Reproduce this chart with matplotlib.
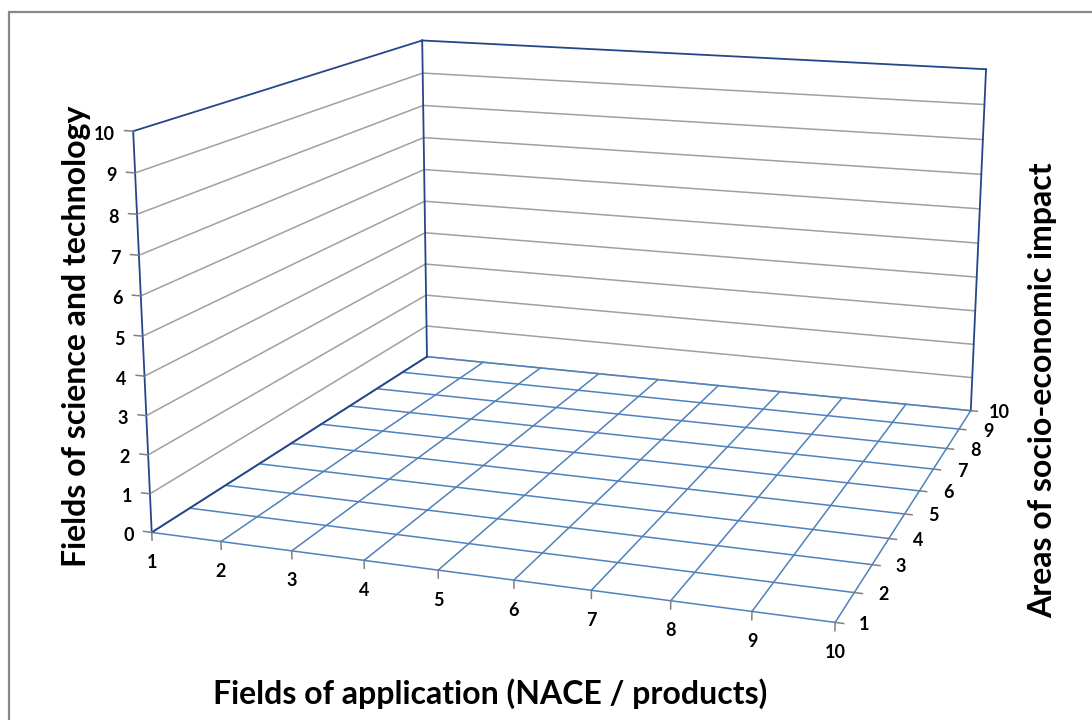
import numpy as np
import matplotlib
matplotlib.use("Agg")
import matplotlib.pyplot as plt
from matplotlib.transforms import offset_copy
from matplotlib.patches import Rectangle

# ---------------- data ----------------
x_ticks = [1, 2, 3, 4, 5, 6, 7, 8, 9, 10]          # Fields of application
y_ticks = [1, 2, 3, 4, 5, 6, 7, 8, 9, 10]          # Areas of socio-economic impact
z_ticks = [0, 1, 2, 3, 4, 5, 6, 7, 8, 9, 10]       # Fields of science and technology
x_title = "Fields of application (NACE / products)"
y_title = "Areas of socio-economic impact"
z_title = "Fields of science and technology"

# ---------------- view / style ----------------
W, H = 1092, 720
ELEV, AZIM, ROLL = 13.8209, -70.8862, -0.1945
FOCAL = 0.43310
BOX = (1.0, 0.99273, 0.58164)
AX_L, AX_B, AX_S = 100.03, -61.84, 966.23      # axes rect in pixels (square)

floor_c = "#4F81BD"
wall_c = "#A0A0A0"
edge_c = "#24478A"
tick_c = "#808080"
font = "Lato"

fig = plt.figure(figsize=(W / 100, H / 100), dpi=100)
ax = fig.add_axes([AX_L / W, AX_B / H, AX_S / W, AX_S / H], projection="3d")
ax.set_xlim(min(x_ticks), max(x_ticks))
ax.set_ylim(min(y_ticks), max(y_ticks))
ax.set_zlim(min(z_ticks), max(z_ticks))
ax.set_axis_off()
ax.view_init(elev=ELEV, azim=AZIM, roll=ROLL)
ax.set_proj_type("persp", focal_length=FOCAL)
ax.set_box_aspect(BOX)

xa, xb = min(x_ticks), max(x_ticks)
ya, yb = min(y_ticks), max(y_ticks)
za, zb = min(z_ticks), max(z_ticks)

# walls: gridlines
for z in z_ticks[:-1]:
    ax.plot([xa, xa], [ya, yb], [z, z], color=wall_c, lw=1.1)
    ax.plot([xa, xb], [yb, yb], [z, z], color=wall_c, lw=1.1)
# floor grid
for x in x_ticks:
    ax.plot([x, x], [ya, yb], [za, za], color=floor_c, lw=1.1)
for y in y_ticks:
    ax.plot([xa, xb], [y, y], [za, za], color=floor_c, lw=1.1)
# wall outlines
edges = [((xa, ya, za), (xa, ya, zb)), ((xa, yb, za), (xa, yb, zb)), ((xb, yb, za), (xb, yb, zb)),
         ((xa, ya, zb), (xa, yb, zb)), ((xa, yb, zb), (xb, yb, zb)), ((xa, ya, za), (xa, yb, za))]
for p1, p2 in edges:
    ax.plot([p1[0], p2[0]], [p1[1], p2[1]], [p1[2], p2[2]], color=edge_c, lw=1.3)

M = ax.get_proj()


def to2d(x, y, z):
    v = M @ np.array([x, y, z, 1.0])
    return v[0] / v[3], v[1] / v[3]


lab_kw = dict(fontsize=13, family=font, fontweight="bold", color="#000000")
for x in x_ticks:
    ax.plot([x, x], [ya, ya], [za, za - 0.2], color=tick_c, lw=1.1)
    u, v = to2d(x, ya, za)
    ax.text2D(u, v, str(x), transform=offset_copy(ax.transData, fig=fig, x=0, y=-30, units="dots"),
              ha="center", va="center", **lab_kw)
for y in y_ticks:
    ax.plot([xb, xb + 0.1], [y, y], [za, za], color=tick_c, lw=1.1)
    u, v = to2d(xb, y, za)
    ax.text2D(u, v, str(y), transform=offset_copy(ax.transData, fig=fig, x=29, y=-2, units="dots"),
              ha="center", va="center", **lab_kw)
for z in z_ticks:
    ax.plot([xa, xa - 0.12], [ya, ya], [z, z], color=tick_c, lw=1.1)
    u, v = to2d(xa, ya, z)
    ax.text2D(u, v, str(z), transform=offset_copy(ax.transData, fig=fig, x=-18, y=-3, units="dots"),
              ha="right", va="center", **lab_kw)

title_kw = dict(fontsize=23, family=font, fontweight="bold", color="#000000")
fig.text(77 / W, 1 - 336 / H, z_title, rotation=90, ha="center", va="center", **title_kw)
fig.text(1043 / W, 1 - 390 / H, y_title, rotation=90, ha="center", va="center", **title_kw)
fig.text(490 / W, 1 - 694 / H, x_title, ha="center", va="center", **title_kw)

fig.patches.append(Rectangle((9 / W, -0.1), 1.2, (H - 12) / H + 0.1, transform=fig.transFigure,
                             fill=False, edgecolor="#888888", lw=1.6))
fig.savefig("out.png", dpi=100)
